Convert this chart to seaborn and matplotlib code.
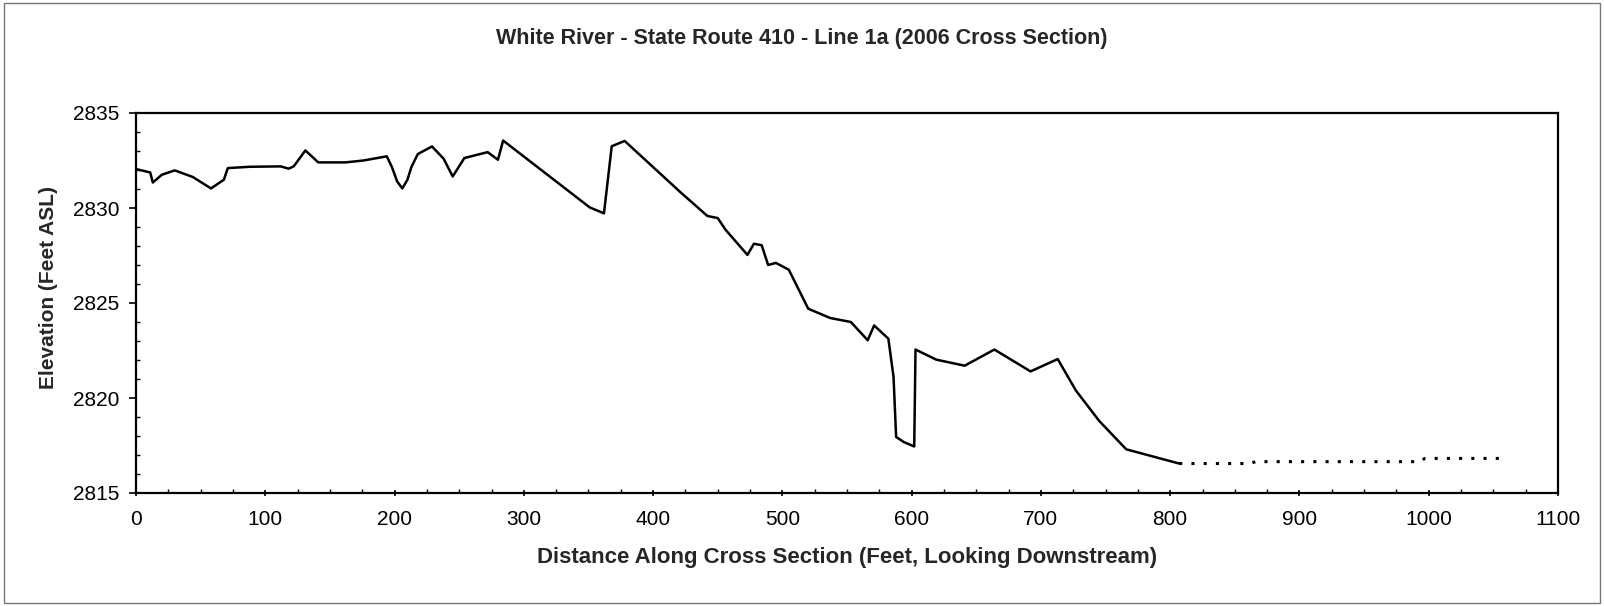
import numpy as np
import pandas as pd
import seaborn as sns
import matplotlib.pyplot as plt
from matplotlib.ticker import MultipleLocator
from matplotlib.patches import Rectangle

# surveyed ground profile (solid)
distance = [0, 11, 13, 20, 30, 44, 58, 68, 71, 88, 112, 118, 122, 131, 141, 162, 176, 194,
            198, 202, 206, 210, 213, 218, 229, 238, 245, 254, 272, 280, 284, 351, 362, 368,
            378, 421, 442, 450, 456, 473, 478, 484, 489, 495, 505, 520, 537, 553, 566, 571,
            582, 586, 588, 594, 602, 603, 619, 641, 664, 692, 713, 727, 745, 766, 807]
elevation = [2832.05, 2831.87, 2831.34, 2831.75, 2831.98, 2831.63, 2831.03, 2831.49, 2832.10,
             2832.17, 2832.19, 2832.07, 2832.19, 2833.03, 2832.40, 2832.40, 2832.50, 2832.72,
             2832.15, 2831.40, 2831.03, 2831.49, 2832.15, 2832.84, 2833.24, 2832.59, 2831.66,
             2832.63, 2832.94, 2832.54, 2833.55, 2830.03, 2829.72, 2833.25, 2833.53, 2830.84,
             2829.58, 2829.47, 2828.86, 2827.53, 2828.12, 2828.04, 2827.00, 2827.11, 2826.75,
             2824.70, 2824.21, 2824.00, 2823.04, 2823.82, 2823.12, 2821.11, 2817.95, 2817.68,
             2817.45, 2822.55, 2822.02, 2821.70, 2822.55, 2821.40, 2822.05, 2820.40, 2818.80,
             2817.30, 2816.55]

# water surface (dotted)
water_distance = [807, 862, 866, 993, 997, 1057]
water_elevation = [2816.55, 2816.55, 2816.65, 2816.65, 2816.82, 2816.82]

ground = pd.DataFrame({"distance": distance, "elevation": elevation})
water = pd.DataFrame({"distance": water_distance, "elevation": water_elevation})

sns.set_style("white")
plt.rcParams['font.family'] = ['Liberation Sans', 'DejaVu Sans']

fig = plt.figure(figsize=(16.04, 6.06), dpi=100)
ax = fig.add_axes([136 / 1604, 1 - 493 / 606, (1558 - 136) / 1604, (493 - 113) / 606])

sns.lineplot(data=ground, x="distance", y="elevation", color="black", linewidth=1.8,
             sort=False, estimator=None, ax=ax)
sns.lineplot(data=water, x="distance", y="elevation", color="black", linewidth=2.2,
             linestyle=(0, (1, 3)), sort=False, estimator=None, ax=ax)

ax.set_xlim(0, 1100)
ax.set_ylim(2815, 2835)
ax.xaxis.set_major_locator(MultipleLocator(100))
ax.xaxis.set_minor_locator(MultipleLocator(25))
ax.yaxis.set_major_locator(MultipleLocator(5))
ax.yaxis.set_minor_locator(MultipleLocator(1))
ax.tick_params(which="major", direction="out", length=5, width=1.2, colors="black",
               labelsize=15, bottom=True, left=True)
ax.tick_params(axis="y", which="major", pad=7)
ax.tick_params(axis="x", which="major", direction="inout", length=5, pad=10)
ax.tick_params(which="minor", direction="in", length=3, width=1, colors="black",
               bottom=True, left=True)
for s in ax.spines.values():
    s.set_color("black")
    s.set_linewidth(1.6)

ax.set_xlabel("Distance Along Cross Section (Feet, Looking Downstream)",
              fontsize=16, fontweight="bold", labelpad=12.5)
ax.set_ylabel("Elevation (Feet ASL)", fontsize=15, fontweight="bold")
ax.yaxis.set_label_coords(-0.055, 0.542)
fig.text(0.5, 1 - 44 / 606, "White River - State Route 410 - Line 1a (2006 Cross Section)",
         ha="center", va="baseline", fontsize=15.5, fontweight="bold")

fig.patches.append(Rectangle((4 / 1604, 3 / 606), 1596 / 1604, 600 / 606,
                             transform=fig.transFigure, fill=False,
                             edgecolor="#777777", linewidth=1))

fig.savefig("out.png", dpi=100)
